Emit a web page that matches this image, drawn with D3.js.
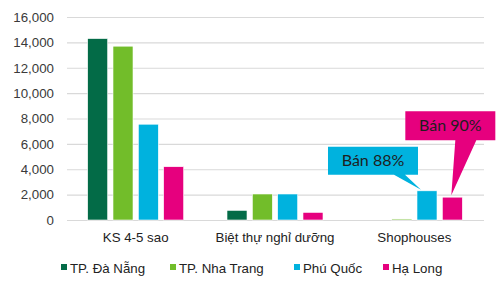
<!DOCTYPE html>
<html><head><meta charset="utf-8">
<script src="https://cdn.jsdelivr.net/npm/d3@7"></script>
<style>body{margin:0;background:#fff}svg{display:block}</style>
</head><body>
<svg id="c" width="500" height="290"></svg>
<script>
const categories = ["KS 4-5 sao", "Biệt thự nghỉ dưỡng", "Shophouses"];
const seriesNames = ["TP. Đà Nẵng", "TP. Nha Trang", "Phú Quốc", "Hạ Long"];
const daNang   = [14300, 760, 0];
const nhaTrang = [13700, 2050, 80];
const phuQuoc  = [7550, 2050, 2300];
const haLong   = [4200, 600, 1800];
const yTicks = [0, 2000, 4000, 6000, 8000, 10000, 12000, 14000, 16000];
const colors = ["#036b47", "#72bd2a", "#00b2de", "#e6007e"];
const annotations = [
  {series: 2, category: 2, text: "Bán 88%"},
  {series: 3, category: 2, text: "Bán 90%"}
];
const seriesValues = [daNang, nhaTrang, phuQuoc, haLong];

const svg = d3.select("#c");
const pL = 67, pR = 484, pT = 17, pB = 220;
const x0 = d3.scaleBand().domain(categories).range([pL - 1, pR]);
const x1 = d3.scaleBand().domain(seriesNames).range([-48, 48]).paddingInner(0.21);
const y = d3.scaleLinear().domain([0, 16000]).range([pB, pT]);

// grid
const yAxis = d3.axisLeft(y).tickValues(yTicks).tickSize(-(pR - pL)).tickPadding(13)
  .tickFormat(d3.format(","));
const ga = svg.append("g").attr("transform", `translate(${pL},0)`).call(yAxis);
ga.select(".domain").remove();
ga.selectAll(".tick line").attr("stroke", "#d9d9d9").attr("stroke-width", 1.2);
ga.selectAll(".tick text").attr("font-family", "Liberation Sans, Arial, sans-serif")
  .attr("font-size", 13.3).attr("fill", "#3a3a3a");

// bars
const groups = svg.append("g").selectAll("g").data(seriesNames).join("g")
  .attr("fill", (d, i) => colors[i]);
groups.selectAll("rect").data((s, si) => categories.map((c, ci) => ({s, c, v: seriesValues[si][ci]})))
  .join("rect")
  .attr("x", d => x0(d.c) + x0.bandwidth() / 2 + x1(d.s))
  .attr("width", x1.bandwidth())
  .attr("y", d => y(d.v))
  .attr("height", d => pB - y(d.v))
  .attr("stroke", "#fff").attr("stroke-width", 0.6);

// category axis labels
const xAxis = d3.axisBottom(x0).tickSize(0).tickPadding(13);
const gx = svg.append("g").attr("transform", `translate(0,${pB})`).call(xAxis);
gx.select(".domain").remove();
gx.selectAll(".tick text").attr("font-family", "Liberation Sans, Arial, sans-serif")
  .attr("font-size", 13.3).attr("fill", "#222");

// legend
const legX = [61, 170, 294, 383];
const leg = svg.append("g").selectAll("g").data(seriesNames).join("g")
  .attr("transform", (d, i) => `translate(${legX[i]},264)`);
leg.append("rect").attr("width", 6).attr("height", 6).attr("fill", (d, i) => colors[i]);
leg.append("text").attr("x", 9).attr("y", 9).text(d => d)
  .attr("font-family", "Liberation Sans, Arial, sans-serif").attr("font-size", 13.3).attr("fill", "#222");

// callouts
const calloutShapes = [
  {l: -93, r: -3, t: -43, b: -15, p1: -27, p2: -16, dx: 4, dy: -1},
  {l: -46, r: 44, t: -84, b: -55, p1: 4, p2: 25, dx: 9, dy: -2}
];
annotations.forEach((a, k) => {
  const sh = calloutShapes[k];
  const bx = x0(categories[a.category]) + x0.bandwidth() / 2 + x1(seriesNames[a.series]);
  const tx = bx + sh.dx, ty = y(seriesValues[a.series][a.category]) + sh.dy;
  const L = tx + sh.l, R = tx + sh.r, T = ty + sh.t, B = ty + sh.b;
  const path = `M${L},${T}H${R}V${B}H${tx + sh.p2}L${tx},${ty}L${tx + sh.p1},${B}H${L}Z`;
  svg.append("path").attr("d", path).attr("fill", colors[a.series]);
  svg.append("text").attr("x", (L + R) / 2).attr("y", (T + B) / 2 + 5.5)
    .attr("text-anchor", "middle").attr("font-family", "Lato, sans-serif")
    .attr("font-size", 16).attr("fill", "#1e1e1e").text(a.text);
});
</script>
</body></html>
